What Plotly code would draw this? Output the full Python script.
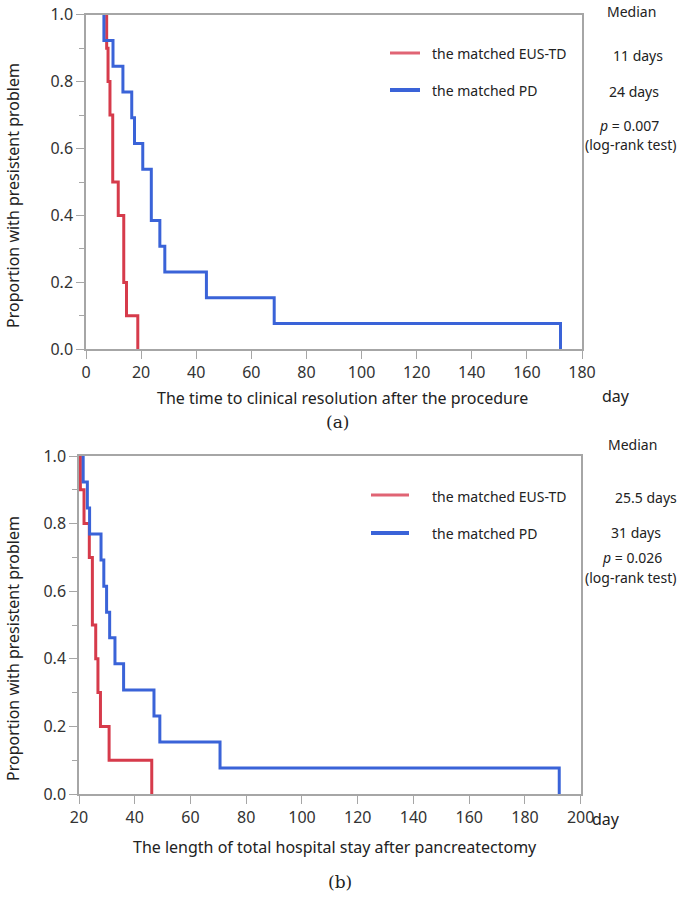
import plotly.graph_objects as go

# ---- data (Kaplan-Meier step points) ----
# Panel (a): time to clinical resolution after the procedure
a_eus_days = [7.5, 7.5, 8.0, 8.0, 8.7, 8.7, 9.7, 9.7, 11.7, 11.7, 13.7, 13.7, 14.7, 14.7, 18.8, 18.8]
a_eus_surv = [1.0, 0.9, 0.9, 0.8, 0.8, 0.7, 0.7, 0.5, 0.5, 0.4, 0.4, 0.2, 0.2, 0.1, 0.1, 0.0]
a_pd_days = [6.5, 6.5, 9.8, 9.8, 13.4, 13.4, 16.6, 16.6, 17.6, 17.6, 20.6, 20.6, 23.7, 23.7,
             26.8, 26.8, 28.6, 28.6, 43.7, 43.7, 68.3, 68.3, 172.2, 172.2]
a_pd_surv = [1.0, 0.923, 0.923, 0.846, 0.846, 0.769, 0.769, 0.692, 0.692, 0.615, 0.615, 0.538,
             0.538, 0.385, 0.385, 0.308, 0.308, 0.231, 0.231, 0.154, 0.154, 0.077, 0.077, 0.0]

# Panel (b): length of total hospital stay after pancreatectomy
b_eus_days = [20.5, 20.5, 21.8, 21.8, 23.7, 23.7, 24.8, 24.8, 26.0, 26.0, 26.8, 26.8, 27.7, 27.7,
              30.8, 30.8, 46.1, 46.1]
b_eus_surv = [1.0, 0.9, 0.9, 0.8, 0.8, 0.7, 0.7, 0.5, 0.5, 0.4, 0.4, 0.3, 0.3, 0.2, 0.2, 0.1,
              0.1, 0.0]
b_pd_days = [21.5, 21.5, 23.0, 23.0, 23.8, 23.8, 27.9, 27.9, 28.9, 28.9, 29.9, 29.9, 31.0, 31.0,
             32.9, 32.9, 36.0, 36.0, 46.9, 46.9, 49.0, 49.0, 70.6, 70.6, 192.3, 192.3]
b_pd_surv = [1.0, 0.923, 0.923, 0.846, 0.846, 0.769, 0.769, 0.692, 0.692, 0.615, 0.615, 0.538,
             0.538, 0.462, 0.462, 0.385, 0.385, 0.308, 0.308, 0.231, 0.231, 0.154, 0.154, 0.077,
             0.077, 0.0]

group_names = ["the matched EUS-TD", "the matched PD"]
a_medians = ["11 days", "24 days"]
b_medians = ["25.5 days", "31 days"]
a_p = "0.007"
b_p = "0.026"
a_xticks = [0, 20, 40, 60, 80, 100, 120, 140, 160, 180]
b_xticks = [20, 40, 60, 80, 100, 120, 140, 160, 180, 200]
yticks = [0.0, 0.2, 0.4, 0.6, 0.8, 1.0]

RED = "#d63b4b"
BLUE = "#3a63d8"
W, H = 681, 897
FONT = "Noto Sans"


def px(x):
    return x / W


def py(y):
    return 1 - y / H


fig = go.Figure()
fig.add_trace(go.Scatter(x=a_eus_days, y=a_eus_surv, mode="lines", line=dict(color=RED, width=3),
                         xaxis="x", yaxis="y", showlegend=False))
fig.add_trace(go.Scatter(x=a_pd_days, y=a_pd_surv, mode="lines", line=dict(color=BLUE, width=3),
                         xaxis="x", yaxis="y", showlegend=False))
fig.add_trace(go.Scatter(x=b_eus_days, y=b_eus_surv, mode="lines", line=dict(color=RED, width=3),
                         xaxis="x2", yaxis="y2", showlegend=False))
fig.add_trace(go.Scatter(x=b_pd_days, y=b_pd_surv, mode="lines", line=dict(color=BLUE, width=3),
                         xaxis="x2", yaxis="y2", showlegend=False))

axcommon = dict(showline=True, linecolor="#a6a6a6", linewidth=1.5, mirror=True, automargin=False,
                showgrid=False, zeroline=False, ticks="outside", ticklen=8, tickwidth=1.2,
                tickcolor="#a6a6a6", tickfont=dict(family=FONT, size=16, color="#333"))

fig.update_layout(
    width=W, height=H, autosize=False,
    margin=dict(l=0, r=0, t=0, b=0),
    paper_bgcolor="white", plot_bgcolor="white",
    xaxis=dict(domain=[px(86), px(582)], range=[0, 180], anchor="y",
               tickvals=a_xticks, **axcommon),
    yaxis=dict(domain=[py(349.3), py(14.7)], range=[0, 1], anchor="x",
               tickvals=yticks, tickformat=".1f",
               minor=dict(dtick=0.1, ticks="outside", ticklen=5, tickcolor="#a6a6a6"),
               **axcommon),
    xaxis2=dict(domain=[px(79), px(580.7)], range=[20, 200], anchor="y2",
                tickvals=b_xticks, **axcommon),
    yaxis2=dict(domain=[py(794), py(456)], range=[0, 1], anchor="x2",
                tickvals=yticks, tickformat=".1f",
                minor=dict(dtick=0.1, ticks="outside", ticklen=5, tickcolor="#a6a6a6"),
                **axcommon),
)

ann = []


def text(x, y, s, size=14, xanchor="center", family=FONT, angle=0, color="#222"):
    ann.append(dict(x=px(x), y=py(y), xref="paper", yref="paper", text=s, showarrow=False,
                    xanchor=xanchor, yanchor="middle", textangle=angle,
                    font=dict(family=family, size=size, color=color)))


# panel (a) texts
text(631, 12, "Median")
text(638, 55, a_medians[0])
text(634, 91, a_medians[1])
text(629, 125, "<i>p</i> = " + a_p)
text(630, 145, "(log-rank test)")
text(430, 53, group_names[0], xanchor="left")
text(430, 90, group_names[1], xanchor="left")
text(342, 398, "The time to clinical resolution after the procedure", size=16)
text(616, 396, "day", size=16)
text(337, 422, "(a)", size=17, family="DejaVu Serif")
text(13, 196, "Proportion with presistent problem", size=16, angle=-90)

# panel (b) texts
text(632, 445, "Median")
text(646, 497, b_medians[0])
text(636, 532, b_medians[1])
text(632, 557, "<i>p</i> = " + b_p)
text(630, 577, "(log-rank test)")
text(430, 496, group_names[0], xanchor="left")
text(430, 533, group_names[1], xanchor="left")
text(335, 847, "The length of total hospital stay after pancreatectomy", size=16)
text(606, 819, "day", size=16)
text(340, 882, "(b)", size=17, family="DejaVu Serif")
text(13, 649, "Proportion with presistent problem", size=16, angle=-90)

shapes = [
    dict(type="line", xref="paper", yref="paper", x0=px(390), x1=px(420), y0=py(53), y1=py(53),
         line=dict(color="#e06474", width=3)),
    dict(type="line", xref="paper", yref="paper", x0=px(390), x1=px(420), y0=py(90), y1=py(90),
         line=dict(color=BLUE, width=4)),
    dict(type="line", xref="paper", yref="paper", x0=px(371), x1=px(409), y0=py(495), y1=py(495),
         line=dict(color="#e06474", width=3)),
    dict(type="line", xref="paper", yref="paper", x0=px(371), x1=px(409), y0=py(533), y1=py(533),
         line=dict(color=BLUE, width=4)),
]

fig.update_layout(annotations=ann, shapes=shapes)
fig.write_html("out.html", config={"displayModeBar": False},
               post_script="document.body.style.margin='0';document.body.style.overflow='hidden';")
